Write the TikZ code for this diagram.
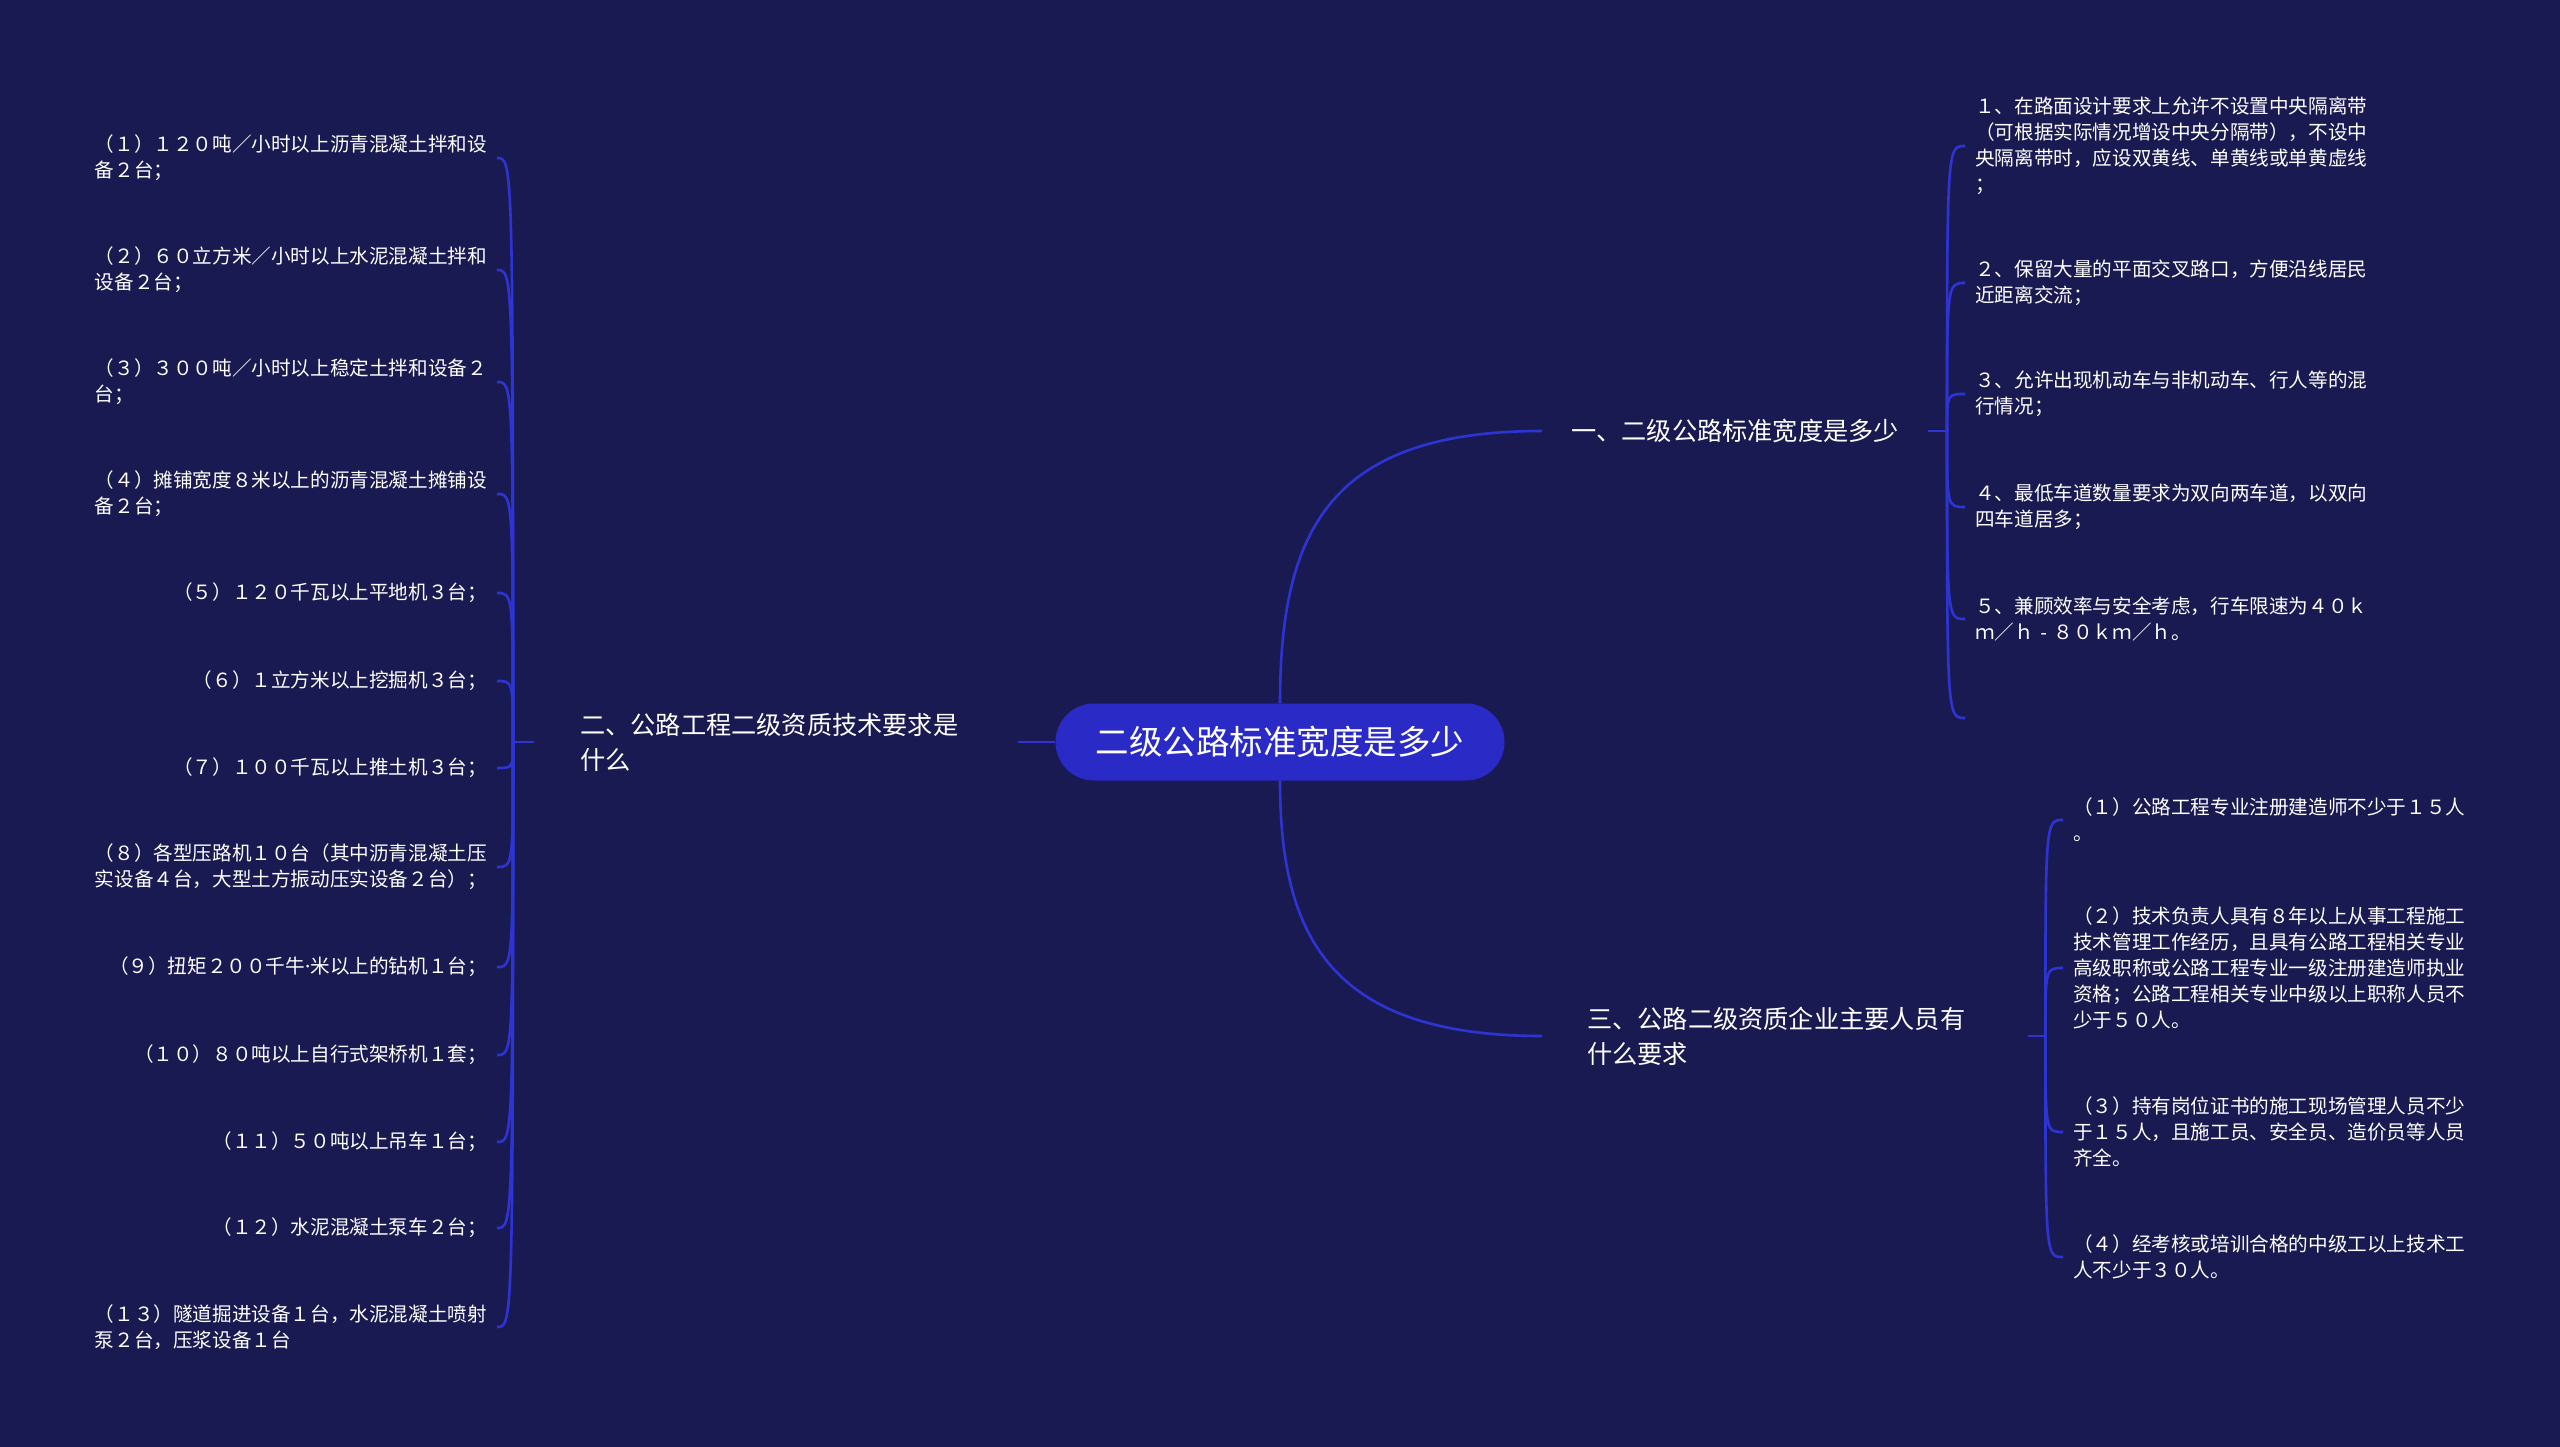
\documentclass[tikz,border=0pt]{standalone}
\usepackage{fontspec}
\newfontfamily\cjk{Noto Sans CJK SC}
\newfontfamily\latn{Noto Sans}
\usetikzlibrary{calc}
\definecolor{bg}{HTML}{1A1A52}
\definecolor{ln}{HTML}{2D34D2}
\definecolor{pillc}{HTML}{2A2AC6}
\begin{document}
\begin{tikzpicture}[x=1pt,y=-1pt,
  conn/.style={draw=ln, line width=2.6pt},
  pillnode/.style={fill=pillc, minimum width=449pt, minimum height=77pt, rounded corners=38.5pt, inner sep=0pt, text=white, font=\cjk\fontsize{33.5}{40}\selectfont},
  branch/.style={anchor=west, inner ysep=2pt, align=left, text=white, font=\cjk\fontsize{25.2}{35}\selectfont},
  leafL/.style={anchor=east, inner xsep=10pt, inner ysep=2pt, align=left, text=white, font=\cjk\fontsize{19.6}{26}\selectfont},
  leafR/.style={leafL, anchor=west}]
\fill[bg] (0,0) rectangle (2560,1447);
\useasboundingbox (0,0) rectangle (2560,1447);

% root
\node[pillnode] (root) at (1280,742) {二级公路标准宽度是多少};

% branches
\node[branch, inner xsep=29pt] (b1) at (1542,431) {一、二级公路标准宽度是多少};
\node[branch, inner xsep=46pt, text width=392pt] (b2) at (534,742) {二、公路工程二级资质技术要求是\\什么};
\node[branch, inner xsep=45pt, text width=396pt] (b3) at (1542,1036) {三、公路二级资质企业主要人员有\\什么要求};

\coordinate (t1) at ($(b1.east)+(19,0)$);
\coordinate (t2) at ($(b2.west)+(-21,0)$);
\coordinate (t3) at ($(b3.east)+(17,0)$);

% branch 1 leaves
\node[leafR] (a1) at (1965,146) {１、在路面设计要求上允许不设置中央隔离带\\（可根据实际情况增设中央分隔带），不设中\\央隔离带时，应设双黄线、单黄线或单黄虚线\\；};
\node[leafR] (a2) at (1965,283) {２、保留大量的平面交叉路口，方便沿线居民\\近距离交流；};
\node[leafR] (a3) at (1965,394) {３、允许出现机动车与非机动车、行人等的混\\行情况；};
\node[leafR] (a4) at (1965,507) {４、最低车道数量要求为双向两车道，以双向\\四车道居多；};
\node[leafR] (a5) at (1965,619) {５、兼顾效率与安全考虑，行车限速为４０ｋ\\ｍ／ｈ\makebox[1em]{\latn -}８０ｋｍ／ｈ。};
\coordinate (a6) at (1965,718);

% branch 2 leaves
\node[leafL] (l1) at (497,158) {（１）１２０吨／小时以上沥青混凝土拌和设\\备２台；};
\node[leafL] (l2) at (497,270) {（２）６０立方米／小时以上水泥混凝土拌和\\设备２台；};
\node[leafL] (l3) at (497,382) {（３）３００吨／小时以上稳定土拌和设备２\\台；};
\node[leafL] (l4) at (497,494) {（４）摊铺宽度８米以上的沥青混凝土摊铺设\\备２台；};
\node[leafL] (l5) at (497,593) {（５）１２０千瓦以上平地机３台；};
\node[leafL] (l6) at (497,681) {（６）１立方米以上挖掘机３台；};
\node[leafL] (l7) at (497,768) {（７）１００千瓦以上推土机３台；};
\node[leafL] (l8) at (497,867) {（８）各型压路机１０台（其中沥青混凝土压\\实设备４台，大型土方振动压实设备２台）；};
\node[leafL] (l9) at (497,967) {（９）扭矩２００千牛{\latn ·}米以上的钻机１台；};
\node[leafL] (l10) at (497,1055) {（１０）８０吨以上自行式架桥机１套；};
\node[leafL] (l11) at (497,1142) {（１１）５０吨以上吊车１台；};
\node[leafL] (l12) at (497,1228) {（１２）水泥混凝土泵车２台；};
\node[leafL] (l13) at (497,1327) {（１３）隧道掘进设备１台，水泥混凝土喷射\\泵２台，压浆设备１台};

% branch 3 leaves
\node[leafR] (c1) at (2063,820) {（１）公路工程专业注册建造师不少于１５人\\。};
\node[leafR] (c2) at (2063,968) {（２）技术负责人具有８年以上从事工程施工\\技术管理工作经历，且具有公路工程相关专业\\高级职称或公路工程专业一级注册建造师执业\\资格；公路工程相关专业中级以上职称人员不\\少于５０人。};
\node[leafR] (c3) at (2063,1132) {（３）持有岗位证书的施工现场管理人员不少\\于１５人，且施工员、安全员、造价员等人员\\齐全。};
\node[leafR] (c4) at (2063,1257) {（４）经考核或培训合格的中级工以上技术工\\人不少于３０人。};

% root connectors
\draw[conn] (root.north) .. controls ($(root.center |- b1.west)+(0,99)$) and ($(root.center |- b1.west)+(50,0)$) .. (b1.west);
\draw[conn] (root.south) .. controls ($(root.center |- b3.west)+(0,-100)$) and ($(root.center |- b3.west)+(50,0)$) .. (b3.west);
\draw[conn] (root.west) -- (b2.east);

% trunk stubs
\draw[conn] (b1.east) -- (t1);
\draw[conn] (b2.west) -- (t2);
\draw[conn] (b3.east) -- (t3);

% leaf connectors
\foreach \n in {a1,a2,a3,a4,a5}
  \draw[conn] (t1) .. controls (t1 |- \n.west) and (t1 |- \n.west) .. (\n.west);
\draw[conn] (t1) .. controls (t1 |- a6) and (t1 |- a6) .. (a6);
\foreach \n in {l1,l2,l3,l4,l5,l6,l7,l8,l9,l10,l11,l12,l13}
  \draw[conn] (t2) .. controls (t2 |- \n.east) and (t2 |- \n.east) .. (\n.east);
\foreach \n in {c1,c2,c3,c4}
  \draw[conn] (t3) .. controls (t3 |- \n.west) and (t3 |- \n.west) .. (\n.west);
\end{tikzpicture}
\end{document}
